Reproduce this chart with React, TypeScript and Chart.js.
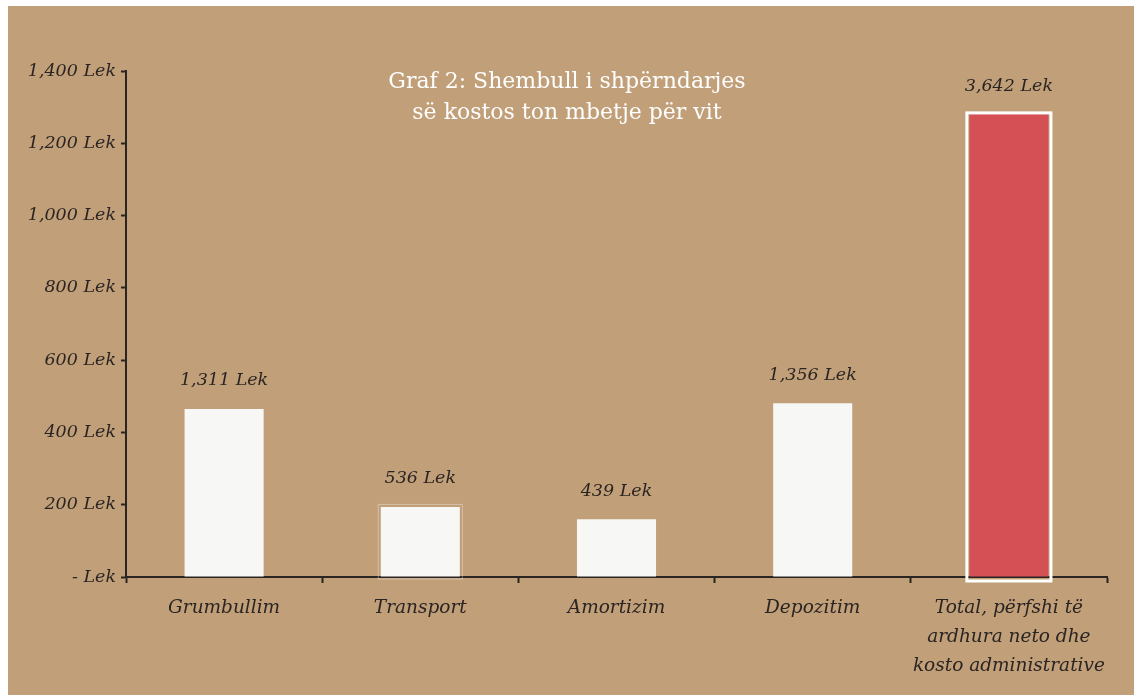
import React, { useEffect, useRef } from "react";
import { Chart, registerables } from "chart.js";

Chart.register(...registerables);

const categories: (string | string[])[] = [
  "Grumbullim",
  "Transport",
  "Amortizim",
  "Depozitim",
  ["Total, përfshi të", "ardhura neto dhe", "kosto administrative"],
];
const barValues = [465, 194, 160, 481, 1280];
const valueLabels = ["1,311 Lek", "536 Lek", "439 Lek", "1,356 Lek", "3,642 Lek"];
const yTickLabels = ["- Lek", "200 Lek", "400 Lek", "600 Lek", "800 Lek", "1,000 Lek", "1,200 Lek", "1,400 Lek"];
const titleLines = ["Graf 2: Shembull i shpërndarjes", "së kostos ton mbetje për vit"];

const BG = "#C09F79";
const DARK = "#2A2422";
const BAR_WHITE = "#F7F7F5";
const BAR_RED = "#D45055";
const FONT_FAMILY = "'DejaVu Serif', serif";

export default function App() {
  const ref = useRef<HTMLCanvasElement | null>(null);

  useEffect(() => {
    if (!ref.current) return;

    const decor = {
      id: "decor",
      afterDatasetsDraw(chart: any) {
        const ctx = chart.ctx;
        const meta = chart.getDatasetMeta(0);
        ctx.save();
        meta.data.forEach((el: any, i: number) => {
          const left = el.x - el.width / 2;
          const right = el.x + el.width / 2;
          const top = el.y;
          const bottom = el.base;
          if (i === 4) {
            ctx.strokeStyle = "#FFFFFF";
            ctx.lineWidth = 3;
            ctx.strokeRect(left - 2.5, top - 1.5, right - left + 5, bottom - top + 6);
          }
          if (i === 1) {
            ctx.strokeStyle = "rgba(255,255,255,0.35)";
            ctx.lineWidth = 1;
            ctx.strokeRect(left - 2.5, top - 2.5, right - left + 5, bottom - top + 5);
          }
          ctx.fillStyle = DARK;
          ctx.font = `italic 17.5px ${FONT_FAMILY}`;
          ctx.textAlign = "center";
          ctx.textBaseline = "middle";
          ctx.fillText(valueLabels[i], el.x, top - 28);
        });
        ctx.fillStyle = "#FFFFFF";
        ctx.font = `22px ${FONT_FAMILY}`;
        ctx.textAlign = "center";
        ctx.textBaseline = "middle";
        titleLines.forEach((line, i) => {
          ctx.fillText(line, 559, 76 + i * 31);
        });
        ctx.restore();
      },
    };

    const chart = new Chart(ref.current, {
      type: "bar",
      data: {
        labels: categories,
        datasets: [
          {
            data: barValues,
            backgroundColor: barValues.map((_, i) => (i === 4 ? BAR_RED : BAR_WHITE)),
            borderWidth: 0,
            barPercentage: 0.403,
            categoryPercentage: 1,
          },
        ],
      },
      options: {
        animation: false,
        responsive: true,
        maintainAspectRatio: false,
        layout: { padding: { top: 65, right: 27, left: 0, bottom: 0 } },
        plugins: {
          legend: { display: false },
          tooltip: { enabled: false },
          title: { display: false },
        },
        scales: {
          x: {
            offset: true,
            grid: {
              display: true,
              offset: true,
              drawOnChartArea: false,
              tickLength: 6,
              tickColor: DARK,
              tickWidth: 2,
            },
            border: { display: true, color: DARK, width: 2 },
            ticks: {
              color: DARK,
              padding: 11,
              maxRotation: 0,
              autoSkip: false,
              font: { family: FONT_FAMILY, style: "italic", size: 18.5, lineHeight: 1.56 },
            },
            afterFit(scale: any) {
              scale.height = 118;
            },
          },
          y: {
            min: 0,
            max: 1400,
            grid: {
              display: true,
              drawOnChartArea: false,
              tickLength: 5,
              tickColor: DARK,
              tickWidth: 2,
            },
            border: { display: true, color: DARK, width: 2 },
            ticks: {
              stepSize: 200,
              color: DARK,
              padding: 5,
              font: { family: FONT_FAMILY, style: "italic", size: 17.5 },
              callback: (_v: any, i: number) => yTickLabels[i],
            },
            afterFit(scale: any) {
              scale.width = 118;
            },
          },
        },
      },
      plugins: [decor],
    });

    return () => chart.destroy();
  }, []);

  return (
    <div style={{ position: "fixed", left: 8, top: 6, width: 1126, height: 689, background: BG }}>
      <canvas ref={ref} />
    </div>
  );
}
